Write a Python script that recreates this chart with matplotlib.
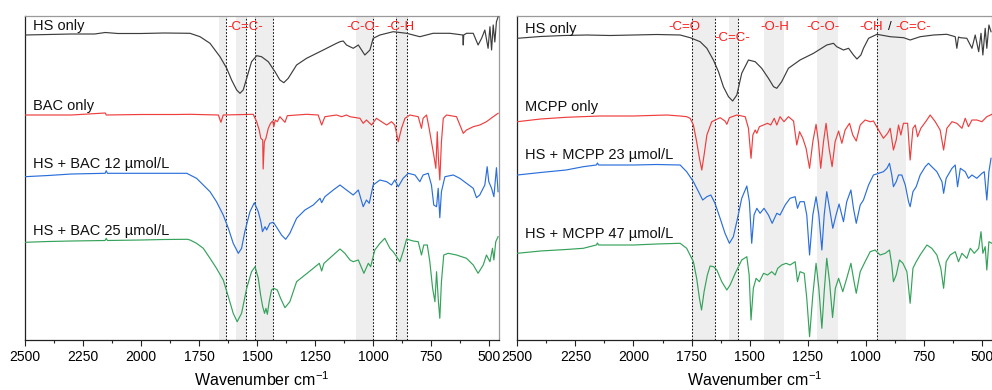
import numpy as np
import matplotlib
matplotlib.use('Agg')
import matplotlib.pyplot as plt
from matplotlib.ticker import MultipleLocator

plt.rcParams['font.family'] = ['Liberation Sans', 'DejaVu Sans']
plt.rcParams['mathtext.fontset'] = 'custom'
plt.rcParams['mathtext.rm'] = 'Liberation Sans'

# ---------------- Left panel (BAC) : (wavenumber, offset transmittance a.u.)
hs_only_left = [(2500, 305), (2400, 305.5), (2300, 306), (2200, 306), (2154, 307.5), (2100, 306.5),
                (2000, 306.5), (1900, 307), (1789, 306.7), (1746, 303.3), (1703, 296.7), (1660, 283.3),
                (1631, 271.7), (1610, 260), (1588, 250), (1574, 246.7), (1560, 250), (1545, 261.7),
                (1524, 278.3), (1502, 284.3), (1481, 283.3), (1452, 278.3), (1423, 268.3), (1402, 260),
                (1385, 257.3), (1366, 261.7), (1330, 275), (1287, 281.7), (1215, 290), (1158, 296.7),
                (1143, 298.3), (1129, 299), (1115, 295), (1086, 291.7), (1064, 295), (1036, 285),
                (1014, 290), (1000, 301.7), (971, 305), (914, 308.3), (856, 306.7), (799, 303.3),
                (742, 306.7), (670, 306.7), (614, 305), (612, 295), (610, 305), (598, 306.7), (569, 306.7),
                (548, 295), (533, 301.7), (519, 310), (505, 291.7), (497, 313.3), (490, 290), (483, 315),
                (476, 298), (469, 318.3), (462, 323)]

bac_only = [(2500, 225), (2300, 225), (2154, 227), (2150, 225), (2000, 225.5), (1850, 225.5),
            (1789, 225.7), (1667, 225), (1656, 217.7), (1646, 225), (1517, 225.7), (1502, 218.3),
            (1491, 210), (1484, 201.7), (1476, 200), (1474, 171), (1469, 198.3), (1462, 201.7),
            (1452, 211.7), (1442, 216.7), (1433, 219), (1428, 213.3), (1422, 220), (1413, 218.3),
            (1402, 223.3), (1380, 217.7), (1370, 224.3), (1287, 225.7), (1237, 225), (1222, 215),
            (1208, 223.3), (1158, 225), (1136, 223.3), (1115, 225), (1100, 223.3), (1057, 221.7),
            (1043, 216.7), (1029, 220), (1007, 215), (986, 221.7), (964, 218.3), (942, 215),
            (921, 218.3), (907, 215), (892, 198.3), (878, 211.7), (863, 221.7), (842, 225),
            (806, 223.3), (792, 211.7), (785, 221.7), (770, 225), (759, 211.7), (749, 198.3),
            (739, 185), (730, 171.7), (724, 208.3), (719, 181.7), (713, 160), (706, 198.3),
            (698, 221.7), (684, 225), (641, 223.3), (612, 206.7), (598, 210), (569, 213.3),
            (541, 215), (512, 218.3), (483, 223.3), (462, 226.7)]

hs_bac_12 = [(2500, 163.3), (2400, 164.5), (2300, 166), (2155, 166.7), (2150, 169.3), (2145, 166.7),
             (2000, 166.7), (1900, 166.7), (1803, 166.7), (1789, 165), (1761, 161.7), (1732, 155),
             (1703, 148.3), (1675, 138.3), (1646, 125), (1624, 111.7), (1603, 96.7), (1581, 86.7),
             (1567, 91.7), (1553, 108.3), (1531, 128.3), (1512, 137.3), (1495, 128.3), (1484, 118.3),
             (1477, 108.3), (1466, 113.3), (1459, 110), (1445, 116.7), (1430, 117.7), (1413, 111.7),
             (1395, 105), (1377, 100.7), (1359, 106.7), (1330, 121.7), (1294, 130), (1258, 135),
             (1229, 141.7), (1222, 137.3), (1208, 143.3), (1172, 150), (1143, 155), (1115, 150),
             (1086, 145), (1064, 150), (1043, 133.3), (1029, 140), (1017, 136.7), (1000, 155),
             (971, 160), (942, 158.3), (921, 155), (907, 160), (892, 153.3), (871, 161.7),
             (849, 166.7), (820, 165), (799, 158.3), (785, 165), (763, 166.7), (749, 155),
             (739, 135), (727, 133.3), (720, 151.7), (713, 122.3), (706, 148.3), (691, 163.3),
             (655, 165), (627, 161.7), (598, 156.7), (569, 151.7), (555, 142.3), (541, 145),
             (519, 155), (509, 173.3), (502, 158.3), (490, 151.7), (480, 143.3), (469, 172.3),
             (462, 148.3)]

hs_bac_25 = [(2500, 97.7), (2400, 98.5), (2300, 99), (2155, 99.5), (2150, 101.7), (2145, 99.5),
             (2000, 100), (1900, 100.5), (1800, 100.7), (1789, 100), (1761, 96.7), (1732, 91.7),
             (1703, 81.7), (1675, 71.7), (1646, 60), (1624, 43.3), (1603, 26.7), (1586, 18.3),
             (1567, 26.7), (1545, 51.7), (1524, 68.3), (1509, 73.3), (1495, 61.7), (1485, 45),
             (1476, 33.3), (1468, 26.7), (1462, 31.7), (1456, 25.7), (1448, 38.3), (1438, 50),
             (1428, 51.7), (1413, 50), (1399, 41.7), (1380, 32.3), (1359, 38.3), (1330, 58.3),
             (1294, 65), (1258, 71.7), (1232, 76.7), (1222, 69), (1212, 76.7), (1172, 85),
             (1143, 91), (1122, 86.7), (1100, 80), (1086, 78.3), (1064, 80), (1040, 66.7),
             (1021, 76.7), (1011, 73.3), (993, 90), (971, 96.7), (950, 101.7), (928, 91.7),
             (914, 88.3), (899, 83.3), (885, 78.3), (871, 88.3), (856, 101), (828, 99),
             (806, 98.3), (792, 85), (782, 95), (767, 95), (756, 78.3), (744, 51.7), (734, 38.3),
             (727, 68.3), (719, 38.3), (713, 21.7), (706, 58.3), (696, 85), (677, 86.7),
             (641, 85), (598, 81.7), (569, 75), (548, 66.7), (526, 75), (512, 85), (497, 78.3),
             (486, 91.7), (480, 80), (472, 98.3), (462, 103.3)]

# ---------------- Right panel (MCPP)
hs_only_right = [(2500, 301.7), (2400, 303.5), (2300, 304.5), (2200, 305), (2100, 304.5), (2000, 305),
                 (1900, 305.5), (1799, 305), (1756, 302.3), (1713, 298.3), (1684, 291.7), (1656, 280),
                 (1634, 268.3), (1613, 253.3), (1591, 243.3), (1573, 239), (1555, 245), (1534, 266.7),
                 (1505, 280), (1476, 278.3), (1448, 271.7), (1419, 261.7), (1397, 253.3), (1383, 251.7),
                 (1362, 258.3), (1333, 271.7), (1283, 280), (1225, 286.7), (1168, 295), (1139, 296.7),
                 (1125, 293.3), (1096, 290), (1074, 291.7), (1053, 285), (1038, 281), (1021, 285),
                 (1010, 291.7), (988, 301.7), (952, 305.7), (895, 303.3), (837, 302.3), (809, 300),
                 (766, 303.3), (708, 305), (651, 305.7), (615, 303.3), (608, 291.7), (601, 303),
                 (593, 302.3), (565, 301.7), (543, 291.7), (529, 305), (514, 288.3), (504, 306.7),
                 (496, 285), (486, 311.7), (479, 291.7), (470, 315), (461, 308.3)]

mcpp_only = [(2500, 218.3), (2400, 221), (2290, 222.7), (2144, 224), (2000, 224), (1857, 225),
             (1799, 224), (1771, 223.3), (1756, 221.7), (1742, 215), (1728, 198.3), (1716, 181.7),
             (1706, 170), (1696, 185), (1684, 205), (1663, 218.3), (1627, 222.3), (1606, 219),
             (1598, 215.7), (1587, 222.3), (1555, 225), (1519, 223.3), (1505, 211.7), (1494, 181.7),
             (1486, 205), (1476, 210), (1469, 206.7), (1458, 213.3), (1440, 215), (1423, 216.7),
             (1409, 215), (1394, 221.7), (1383, 215), (1369, 223.3), (1352, 218.3), (1333, 223.3),
             (1311, 219), (1297, 195), (1285, 208.3), (1271, 201.7), (1257, 191.7), (1242, 171.7),
             (1228, 198.3), (1214, 215.7), (1204, 198.3), (1194, 171.7), (1182, 198.3), (1171, 216.7),
             (1158, 191.7), (1145, 173.3), (1132, 198.3), (1117, 209), (1103, 196.7), (1089, 210),
             (1070, 216.7), (1056, 205), (1041, 199), (1024, 215), (1003, 220), (981, 218.3),
             (967, 219), (945, 210), (924, 201.7), (906, 206.7), (895, 211.7), (881, 190),
             (869, 200), (859, 215), (849, 205), (838, 216.7), (820, 216.7), (809, 180),
             (797, 211.7), (787, 215), (777, 203.3), (763, 211.7), (737, 220), (723, 225),
             (701, 218.3), (680, 210), (665, 190), (651, 211.7), (629, 218.3), (608, 216.7),
             (586, 211.7), (572, 221.7), (558, 213.3), (543, 220), (522, 220), (500, 218.3),
             (479, 223.3), (457, 225.7)]

hs_mcpp_23 = [(2500, 165), (2400, 167.5), (2290, 170), (2216, 173.3), (2160, 175), (2155, 177),
              (2150, 175), (2000, 175), (1900, 175.5), (1799, 175), (1771, 168.3), (1742, 158.3),
              (1720, 148.3), (1702, 140), (1684, 143.3), (1667, 145), (1649, 136.7), (1627, 121.7),
              (1606, 106.7), (1587, 96.7), (1570, 103.3), (1552, 121.7), (1534, 141.7), (1512, 154),
              (1501, 138.3), (1491, 96.7), (1481, 125), (1469, 131.7), (1455, 126.7), (1438, 131.7),
              (1419, 125), (1403, 116.7), (1383, 126.7), (1369, 125), (1347, 135), (1326, 141.7),
              (1304, 143.3), (1294, 131.7), (1283, 138.3), (1265, 138.3), (1254, 125), (1242, 85),
              (1228, 125), (1214, 143.3), (1202, 125), (1189, 90), (1179, 125), (1168, 148.3),
              (1156, 131.7), (1142, 111.7), (1128, 125), (1115, 136), (1096, 118.3), (1082, 138.3),
              (1064, 150), (1053, 131.7), (1041, 116.7), (1024, 135), (1010, 140), (988, 155),
              (967, 165), (945, 166.7), (924, 168.3), (909, 171.7), (898, 176.7), (888, 165),
              (881, 153.3), (869, 158.3), (859, 165), (845, 165), (830, 155), (816, 138.3),
              (809, 133.3), (797, 148.3), (783, 153.3), (766, 165), (744, 173.3), (730, 176.7),
              (716, 173.3), (694, 168.3), (672, 158.3), (665, 146.7), (654, 161.7), (629, 171.7),
              (615, 175), (605, 153.3), (593, 171.7), (572, 168.3), (558, 161.7), (543, 165),
              (522, 161.7), (500, 166.7), (490, 168.3), (479, 140), (470, 168.3), (461, 181.7)]

hs_mcpp_47 = [(2500, 86.7), (2400, 89), (2290, 90.5), (2216, 91.7), (2160, 95), (2155, 97), (2150, 95),
              (2000, 95), (1900, 96), (1799, 96.7), (1771, 91.7), (1742, 78.3), (1728, 61.7),
              (1716, 41.7), (1707, 30), (1696, 48.3), (1682, 65), (1670, 74), (1655, 73.3), (1641, 70),
              (1620, 58.3), (1598, 50), (1584, 55), (1562, 66.7), (1534, 80), (1512, 83.3),
              (1502, 65), (1494, 20), (1484, 51.7), (1472, 61.7), (1458, 58.3), (1440, 66.7),
              (1423, 65), (1405, 68.3), (1390, 65), (1379, 71.7), (1362, 75), (1343, 76.7),
              (1326, 75), (1304, 78.3), (1294, 58.3), (1283, 68.3), (1265, 66.7), (1254, 41.7),
              (1242, 3.3), (1228, 45), (1214, 76.7), (1202, 51.7), (1189, 11.7), (1179, 48.3),
              (1168, 81.7), (1156, 58.3), (1143, 22.5), (1131, 51.7), (1117, 61.7), (1099, 48.3),
              (1082, 61.7), (1064, 76.7), (1053, 61.7), (1041, 46.7), (1024, 68.3), (1003, 78.3),
              (981, 88.3), (960, 90), (938, 85), (916, 86.7), (898, 90), (888, 75), (881, 58.3),
              (869, 65), (855, 80), (840, 76.7), (823, 68.3), (809, 36.7), (797, 71.7), (783, 78.3),
              (766, 85), (737, 95), (716, 91.7), (694, 85), (677, 71.7), (665, 51.7), (654, 78.3),
              (637, 85), (615, 88.3), (601, 78.3), (586, 86.7), (565, 81.7), (550, 91.7),
              (533, 86.7), (514, 91.7), (504, 108.3), (496, 86.7), (486, 93.3), (479, 70),
              (470, 98.3), (457, 96.7)]

left_labels = ["HS only", "BAC only", "HS + BAC 12 µmol/L", "HS + BAC 25 µmol/L"]
right_labels = ["HS only", "MCPP only", "HS + MCPP 23 µmol/L", "HS + MCPP 47 µmol/L"]
left_label_y = [310, 230, 171.7, 105]
right_label_y = [306.7, 229.3, 181, 101.7]

left_vlines = [1632, 1550, 1508, 1432, 1000, 903, 853]
left_spans = [(1665, 1632), (1590, 1550), (1508, 1432), (1073, 1000), (903, 853)]
right_vlines = [1750, 1650, 1550, 950]
right_spans = [(1750, 1650), (1590, 1550), (1436, 1353), (1208, 1120), (950, 826)]

left_annot = [("-C=C-", 1552, 310), ("-C-O-", 1043, 310), ("-C-H", 882, 310)]
right_annot = [("-C=O", 1781, 310.5), ("-C=C-", 1574, 299.3), ("-O-H", 1393, 310.5), ("-C-O-", 1185, 310.5)]

colors = ['#3d3d3d', '#ef3e3e', '#2b6fdc', '#35a25b']
RED = '#ff1a1a'

fig = plt.figure(figsize=(9.92, 3.9), dpi=100)
ax1 = fig.add_axes([25 / 992, 50 / 390, 474 / 992, 324 / 390])
ax2 = fig.add_axes([517.3 / 992, 50 / 390, 474.4 / 992, 324 / 390])


def style(ax):
    ax.set_xlim(2500, 458)
    ax.set_ylim(0, 324)
    ax.set_yticks([])
    ax.xaxis.set_major_locator(MultipleLocator(250))
    ax.xaxis.set_minor_locator(MultipleLocator(125))
    ax.tick_params(axis='x', which='major', direction='out', length=4, width=0.8,
                   labelsize=10, pad=3, color='#222222')
    ax.tick_params(axis='x', which='minor', direction='out', length=2, width=0.8, color='#222222')
    for s in ['left', 'bottom']:
        ax.spines[s].set_color('#222222')
        ax.spines[s].set_linewidth(0.9)
    for s in ['top', 'right']:
        ax.spines[s].set_color('#9a9a9a')
        ax.spines[s].set_linewidth(0.9)
    ax.set_xlabel(r'Wavenumber cm$^{\mathregular{-1}}$', fontsize=11.5, labelpad=5)


def draw(ax, spectra, labels, label_y, vlines, spans, annots):
    for a, b in spans:
        ax.axvspan(a, b, color='#eeeeee', lw=0, zorder=0)
    for v in vlines:
        ax.axvline(v, color='#111111', ls=(0, (1.6, 1.6)), lw=0.75, zorder=1)
    for data, c in zip(spectra, colors):
        arr = np.array(data, dtype=float)
        ax.plot(arr[:, 0], arr[:, 1], color=c, lw=0.85, zorder=3)
    for t, y in zip(labels, label_y):
        ax.text(2467, y, t, fontsize=10.5, va='baseline', ha='left', color='#111111', zorder=4)
    for t, x, y in annots:
        ax.text(x, y, t, fontsize=9.5, va='baseline', ha='center', color=RED, zorder=4)
    style(ax)


draw(ax1, [hs_only_left, bac_only, hs_bac_12, hs_bac_25], left_labels, left_label_y,
     left_vlines, left_spans, left_annot)
draw(ax2, [hs_only_right, mcpp_only, hs_mcpp_23, hs_mcpp_47], right_labels, right_label_y,
     right_vlines, right_spans, right_annot)

# combined annotation "-CH / -C=C-"
ax2.text(924, 310.5, "-CH", fontsize=9.5, va='baseline', ha='right', color=RED, zorder=4)
ax2.text(898, 310.5, "/", fontsize=9.5, va='baseline', ha='center', color='#111111', zorder=4)
ax2.text(873, 310.5, "-C=C-", fontsize=9.5, va='baseline', ha='left', color=RED, zorder=4)

fig.savefig('out.png', dpi=100, facecolor='white')
